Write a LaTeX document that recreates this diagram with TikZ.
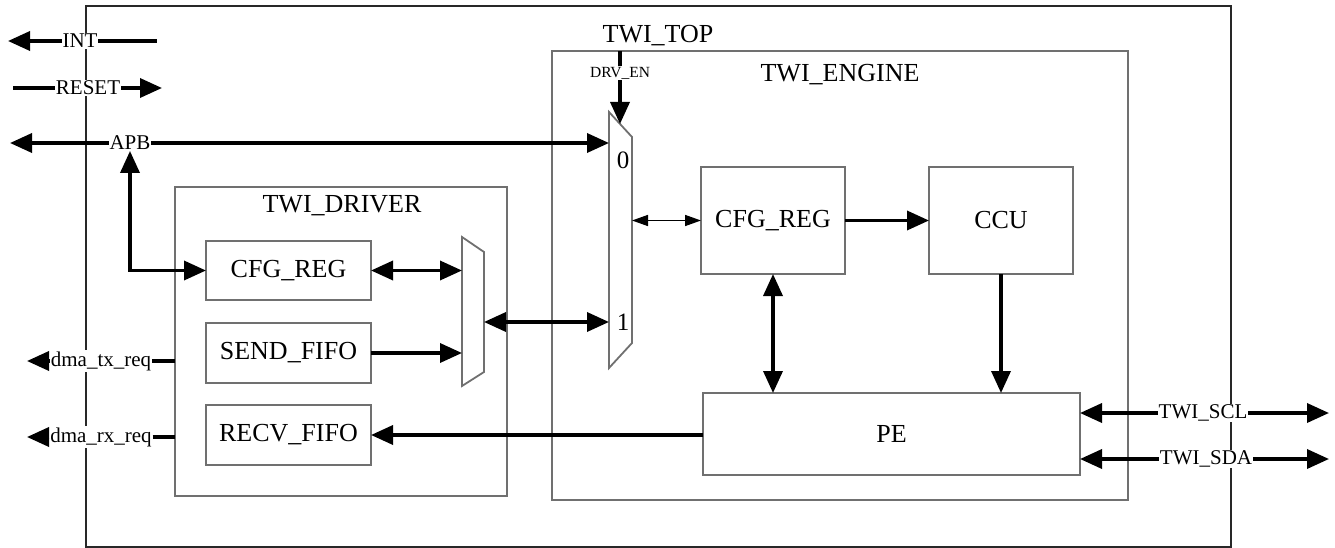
\documentclass[tikz,border=0pt]{standalone}
\usepackage{fontspec}
\setmainfont{Liberation Serif}
\usetikzlibrary{arrows.meta}
\begin{document}
\begin{tikzpicture}[x={(1pt,0pt)},y={(0pt,-1pt)},
  every node/.style={inner sep=0pt, outer sep=0pt},
  frame/.style={draw={rgb,255:red,112;green,112;blue,112}, line width=1.8pt},
  blk/.style={frame, font=\fontsize{26}{30}\selectfont},
  title/.style={font=\fontsize{26}{30}\selectfont, anchor=base},
  sig/.style={fill=white, inner sep=1pt, font=\fontsize{21}{24}\selectfont},
  bus/.style={line width=3.5pt},
  thinbus/.style={line width=1.5pt, >={Triangle[length=16pt,width=11pt]}},
  >={Triangle[length=22pt,width=19pt]}]
\useasboundingbox (0,0) rectangle (1335,548);
\node[draw={rgb,255:red,40;green,40;blue,40}, line width=1.5pt, minimum width=1145pt, minimum height=541pt] (top) at (658.5,276.5) {};
\node[frame, minimum width=576pt, minimum height=449pt] (engine) at (840,275.5) {};
\node[frame, minimum width=332pt, minimum height=309pt] (driver) at (341,341.5) {};
\node[title] (toplbl) at (658,43) {TWI\_TOP};
\node[title] (englbl) at (840,82) {TWI\_ENGINE};
\node[title] (drvlbl) at (342,212) {TWI\_DRIVER};
\node[blk, minimum width=165pt, minimum height=59pt] (dcfg) at (288.5,270.5) {CFG\_REG};
\node[blk, minimum width=165pt, minimum height=60pt] (send) at (288.5,353) {SEND\_FIFO};
\node[blk, minimum width=165pt, minimum height=60pt] (recv) at (288.5,435) {RECV\_FIFO};
\node[blk, minimum width=144pt, minimum height=107pt] (ecfg) at (773,220.5) {CFG\_REG};
\node[blk, minimum width=144pt, minimum height=107pt] (ccu) at (1001,220.5) {CCU};
\node[blk, minimum width=377pt, minimum height=82pt] (pe) at (891.5,434) {PE};
\node[minimum width=23pt, minimum height=256pt] (emux) at (620.5,240) {};
\draw[frame] (emux.north west) -- ([yshift=-25pt]emux.north east) -- ([yshift=25pt]emux.south east) -- (emux.south west) -- cycle;
\node[minimum width=22pt, minimum height=149pt] (dmux) at (473,311.5) {};
\draw[frame] (dmux.north west) -- ([yshift=-15pt]dmux.north east) -- ([yshift=14pt]dmux.south east) -- (dmux.south west) -- cycle;
\node[font=\fontsize{25}{28}\selectfont] (in0) at (623,160) {0};
\node[font=\fontsize{25}{28}\selectfont] (in1) at (623,322) {1};
\node[sig] (int) at (80,41) {INT};
\node[sig] (reset) at (88,88) {RESET};
\node[sig] (apb) at (130,143) {APB};
\node[sig] (dtx) at (101,361) {dma\_tx\_req};
\node[sig] (drx) at (101,437) {dma\_rx\_req};
\node[sig] (scl) at (1203,413) {TWI\_SCL};
\node[sig] (sda) at (1206,459) {TWI\_SDA};
\node[sig, font=\fontsize{15.5}{18}\selectfont] (drven) at (620,73) {DRV\_EN};
\coordinate (intL) at (8,41);
\coordinate (intR) at (157,41);
\coordinate (resetL) at (13,88);
\coordinate (resetR) at (162,88);
\coordinate (apbL) at (10,143);
\coordinate (dtxL) at (27,361);
\coordinate (drxL) at (27,437);
\coordinate (sclR) at (1329,413);
\coordinate (sdaR) at (1329,459);
\coordinate (dtip) at (620,124);
\draw[bus,->] (int.west) -- (intL);
\draw[bus] (int.east) -- (intR);
\draw[bus] (resetL) -- (reset.west);
\draw[bus,->] (reset.east) -- (resetR);
\draw[bus,->] (apb.west) -- (apbL);
\draw[bus,->] (apb.east) -- (apb.east -| emux.west);
\draw[bus,<->] (apb.south) |- (dcfg.west);
\draw[bus] (drven.north) -- (drven.north |- engine.north);
\draw[bus,->] (drven.south) -- (dtip);
\draw[bus,<->] (dcfg.east) -- (dcfg.east -| dmux.west);
\draw[bus,->] (send.east) -- (send.east -| dmux.west);
\draw[bus,<->] (in1 -| dmux.east) -- (in1 -| emux.west);
\draw[thinbus,<->] (ecfg.west -| emux.east) -- (ecfg.west);
\draw[bus,->] (ecfg.east) -- (ccu.west);
\draw[bus,<->] (ecfg.south) -- (ecfg.south |- pe.north);
\draw[bus,->] (ccu.south) -- (ccu.south |- pe.north);
\draw[bus,->] (pe.west |- recv.east) -- (recv.east);
\draw[bus] (dtx.east) -- (dtx.east -| driver.west);
\draw[bus,->] (dtx.west) -- (dtxL);
\draw[bus] (drx.east) -- (drx.east -| driver.west);
\draw[bus,->] (drx.west) -- (drxL);
\draw[bus,->] (scl.west) -- (scl.west -| pe.east);
\draw[bus,->] (scl.east) -- (sclR);
\draw[bus,->] (sda.west) -- (sda.west -| pe.east);
\draw[bus,->] (sda.east) -- (sdaR);
\end{tikzpicture}
\end{document}
